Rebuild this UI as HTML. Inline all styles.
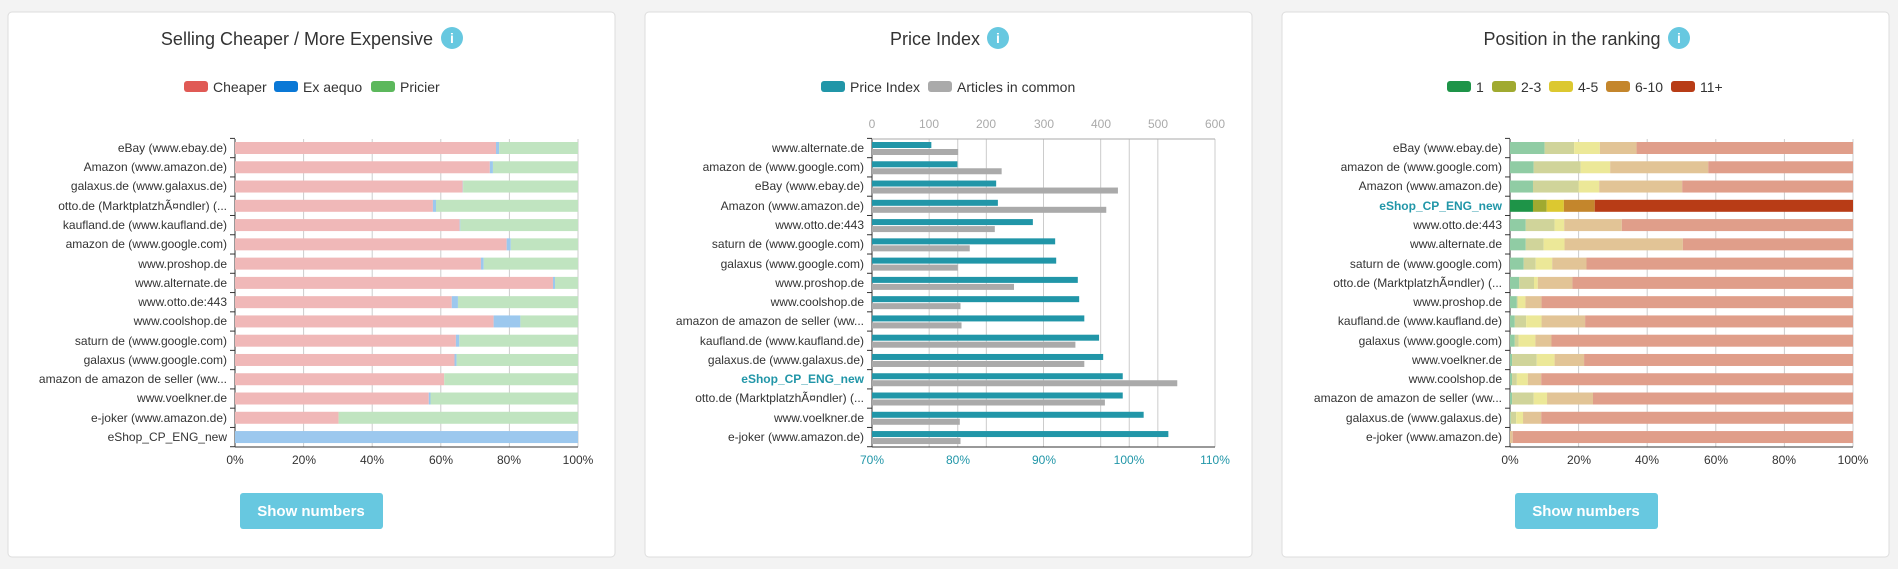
<!DOCTYPE html>
<html><head><meta charset="utf-8"><style>
html,body{margin:0;padding:0;background:#f3f3f3;}
body{width:1898px;height:564px;overflow:hidden;font-family:"Liberation Sans",sans-serif;}
svg text{font-family:"Liberation Sans",sans-serif;}
</style></head><body>
<svg id="s" width="1898" height="564" xmlns="http://www.w3.org/2000/svg">
<rect x="8" y="12" width="607" height="545" rx="4" fill="#fff" stroke="#ddd"/>
<rect x="645" y="12" width="607" height="545" rx="4" fill="#fff" stroke="#ddd"/>
<rect x="1282" y="12" width="607" height="545" rx="4" fill="#fff" stroke="#ddd"/>
<g id="bars"></g>
<g font-size="18" fill="#333" text-anchor="middle">
<text x="297" y="45">Selling Cheaper / More Expensive</text>
<text x="935" y="45">Price Index</text>
<text x="1572" y="45">Position in the ranking</text>
</g>
<g fill="#67c8e0"><circle cx="452" cy="38" r="11"/><circle cx="998" cy="38" r="11"/><circle cx="1679" cy="38" r="11"/></g>
<g fill="#fff" font-size="14" font-weight="bold" text-anchor="middle" font-family="Liberation Serif"><text x="452" y="43">i</text><text x="998" y="43">i</text><text x="1679" y="43">i</text></g>
<!-- legends -->
<g font-size="14" fill="#333">
<rect x="184" y="81" width="24" height="11" rx="3" fill="#e05a55"/><text x="213" y="92">Cheaper</text>
<rect x="274" y="81" width="24" height="11" rx="3" fill="#0a78d6"/><text x="303" y="92">Ex aequo</text>
<rect x="371" y="81" width="24" height="11" rx="3" fill="#5cb85c"/><text x="400" y="92">Pricier</text>
<rect x="821" y="81" width="24" height="11" rx="3" fill="#2196a8"/><text x="850" y="92">Price Index</text>
<rect x="928" y="81" width="24" height="11" rx="3" fill="#aaaaaa"/><text x="957" y="92">Articles in common</text>
<rect x="1447" y="81" width="24" height="11" rx="3" fill="#1e9448"/><text x="1476" y="92">1</text>
<rect x="1492" y="81" width="24" height="11" rx="3" fill="#a0aa30"/><text x="1521" y="92">2-3</text>
<rect x="1549" y="81" width="24" height="11" rx="3" fill="#dcc830"/><text x="1578" y="92">4-5</text>
<rect x="1606" y="81" width="24" height="11" rx="3" fill="#c4862c"/><text x="1635" y="92">6-10</text>
<rect x="1671" y="81" width="24" height="11" rx="3" fill="#b83c16"/><text x="1700" y="92">11+</text>
</g>
<!-- labels panel 1 -->
<g font-size="12" fill="#333" text-anchor="end">
<text x="227" y="152">eBay (www.ebay.de)</text>
<text x="227" y="171">Amazon (www.amazon.de)</text>
<text x="227" y="190">galaxus.de (www.galaxus.de)</text>
<text x="227" y="210">otto.de (MarktplatzhÃ¤ndler) (...</text>
<text x="227" y="229">kaufland.de (www.kaufland.de)</text>
<text x="227" y="248">amazon de (www.google.com)</text>
<text x="227" y="268">www.proshop.de</text>
<text x="227" y="287">www.alternate.de</text>
<text x="227" y="306">www.otto.de:443</text>
<text x="227" y="325">www.coolshop.de</text>
<text x="227" y="345">saturn de (www.google.com)</text>
<text x="227" y="364">galaxus (www.google.com)</text>
<text x="227" y="383">amazon de amazon de seller (ww...</text>
<text x="227" y="402">www.voelkner.de</text>
<text x="227" y="422">e-joker (www.amazon.de)</text>
<text x="227" y="441">eShop_CP_ENG_new</text>
</g>
<g font-size="12" fill="#333" text-anchor="end">
<text x="864" y="152">www.alternate.de</text>
<text x="864" y="171">amazon de (www.google.com)</text>
<text x="864" y="190">eBay (www.ebay.de)</text>
<text x="864" y="210">Amazon (www.amazon.de)</text>
<text x="864" y="229">www.otto.de:443</text>
<text x="864" y="248">saturn de (www.google.com)</text>
<text x="864" y="268">galaxus (www.google.com)</text>
<text x="864" y="287">www.proshop.de</text>
<text x="864" y="306">www.coolshop.de</text>
<text x="864" y="325">amazon de amazon de seller (ww...</text>
<text x="864" y="345">kaufland.de (www.kaufland.de)</text>
<text x="864" y="364">galaxus.de (www.galaxus.de)</text>
<text x="864" y="383" fill="#2196a8" font-weight="bold">eShop_CP_ENG_new</text>
<text x="864" y="402">otto.de (MarktplatzhÃ¤ndler) (...</text>
<text x="864" y="422">www.voelkner.de</text>
<text x="864" y="441">e-joker (www.amazon.de)</text>
</g>
<g font-size="12" fill="#333" text-anchor="end">
<text x="1502" y="152">eBay (www.ebay.de)</text>
<text x="1502" y="171">amazon de (www.google.com)</text>
<text x="1502" y="190">Amazon (www.amazon.de)</text>
<text x="1502" y="210" fill="#2196a8" font-weight="bold">eShop_CP_ENG_new</text>
<text x="1502" y="229">www.otto.de:443</text>
<text x="1502" y="248">www.alternate.de</text>
<text x="1502" y="268">saturn de (www.google.com)</text>
<text x="1502" y="287">otto.de (MarktplatzhÃ¤ndler) (...</text>
<text x="1502" y="306">www.proshop.de</text>
<text x="1502" y="325">kaufland.de (www.kaufland.de)</text>
<text x="1502" y="345">galaxus (www.google.com)</text>
<text x="1502" y="364">www.voelkner.de</text>
<text x="1502" y="383">www.coolshop.de</text>
<text x="1502" y="402">amazon de amazon de seller (ww...</text>
<text x="1502" y="422">galaxus.de (www.galaxus.de)</text>
<text x="1502" y="441">e-joker (www.amazon.de)</text>
</g>
<!-- tick labels -->
<g font-size="12" fill="#333" text-anchor="middle">
<text x="235" y="464">0%</text><text x="304" y="464">20%</text><text x="372" y="464">40%</text><text x="441" y="464">60%</text><text x="509" y="464">80%</text><text x="578" y="464">100%</text>
<text x="1510" y="464">0%</text><text x="1579" y="464">20%</text><text x="1647" y="464">40%</text><text x="1716" y="464">60%</text><text x="1784" y="464">80%</text><text x="1853" y="464">100%</text>
</g>
<g font-size="12" fill="#2196a8" text-anchor="middle">
<text x="872" y="464">70%</text><text x="958" y="464">80%</text><text x="1044" y="464">90%</text><text x="1129" y="464">100%</text><text x="1215" y="464">110%</text>
</g>
<g font-size="12" fill="#aaa" text-anchor="middle">
<text x="872" y="128">0</text><text x="929" y="128">100</text><text x="986" y="128">200</text><text x="1044" y="128">300</text><text x="1101" y="128">400</text><text x="1158" y="128">500</text><text x="1215" y="128">600</text>
</g>
<!-- buttons -->
<rect x="240" y="493" width="143" height="36" rx="3" fill="#67c8e0"/>
<text x="311" y="516" font-size="15" font-weight="bold" fill="#fff" text-anchor="middle">Show numbers</text>
<rect x="1515" y="493" width="143" height="36" rx="3" fill="#67c8e0"/>
<text x="1586" y="516" font-size="15" font-weight="bold" fill="#fff" text-anchor="middle">Show numbers</text>
</svg>
<script>
var g=document.getElementById('bars'),NS='http://www.w3.org/2000/svg';
function R(x,y,w,h,f){var r=document.createElementNS(NS,'rect');r.setAttribute('x',x);r.setAttribute('y',y);r.setAttribute('width',Math.max(0,w));r.setAttribute('height',h);r.setAttribute('fill',f);g.appendChild(r);}
function L(x1,y1,x2,y2,c){var l=document.createElementNS(NS,'line');l.setAttribute('x1',x1);l.setAttribute('y1',y1);l.setAttribute('x2',x2);l.setAttribute('y2',y2);l.setAttribute('stroke',c);l.setAttribute('stroke-width',1);g.appendChild(l);}
var ys=[];for(var i=0;i<16;i++)ys.push(148+i*19.27);
function axes(x0,x1,grid){grid.forEach(function(x){L(x,139,x,447,'#ccc');});
 L(x0,139,x0,447,'#333');L(x0,447,x1,447,'#333');
 for(var i=0;i<=16;i++){var y=138.4+i*19.27;L(x0-5,y,x0,y,'#333');}}
// panel 1
var X0=235,W=343;
axes(X0,X0+W,[0.2,0.4,0.6,0.8,1].map(function(f){return X0+W*f;}));
var p1=[[76.1,77],[74.3,75.2],[66.4,66.5],[57.7,58.6],[65.5,65.7],[79.2,80.4],[71.7,72.5],[92.7,93.3],[63.2,65],[75.4,83.2],[64.4,65.4],[64,64.6],[61,61],[56.5,57],[30.2,30.2],[0,100]];
p1.forEach(function(d,i){var y=ys[i]-6;R(X0,y,W*d[0]/100,12,'#f0b8b8');R(X0+W*d[0]/100,y,W*(d[1]-d[0])/100,12,'#9cc8ee');R(X0+W*d[1]/100,y,W*(1-d[1]/100),12,'#c0e4c0');});
// panel 2
X0=872;W=343;
var gr=[];for(var k=1;k<=6;k++)gr.push(X0+W*k/6);gr.push(X0+W*0.25,X0+W*0.75);
axes(X0,X0+W,gr);L(X0,139,X0+W,139,'#aaa');
var p2=[[.173,.251],[.249,.378],[.362,.717],[.367,.683],[.469,.358],[.534,.285],[.537,.25],[.6,.414],[.604,.258],[.619,.261],[.662,.593],[.674,.619],[.731,.89],[.731,.679],[.792,.256],[.864,.258]];
p2.forEach(function(d,i){R(X0,ys[i]-6,W*d[0],6,'#2196a8');R(X0,ys[i]+1,W*d[1],6,'#aaaaaa');});
// panel 3
X0=1510;W=343;
axes(X0,X0+W,[0.2,0.4,0.6,0.8,1].map(function(f){return X0+W*f;}));
var p3=[[.101,.187,.262,.369],[.069,.206,.292,.578],[.067,.2,.26,.502],[.067,.107,.157,.247],[.046,.13,.158,.326],[.046,.098,.159,.504],[.04,.075,.123,.223],[.027,.07,.081,.182],[.02,.023,.045,.092],[.014,.047,.092,.219],[.014,.025,.074,.121],[.006,.078,.13,.216],[.006,.02,.052,.091],[.006,.069,.108,.242],[.002,.018,.038,.091],[0,0,0,.008]];
var lc=['#90cca4','#d0d49a','#ece898','#e2c496','#e09e8a'],dc=['#1e9448','#a0aa30','#dcc830','#c4862c','#b83c16'];
p3.forEach(function(d,i){var c=i==3?dc:lc,e=[0].concat(d,[1]);for(var j=0;j<5;j++)R(X0+W*e[j],ys[i]-6,W*(e[j+1]-e[j]),12,c[j]);});
</script>
</body></html>
